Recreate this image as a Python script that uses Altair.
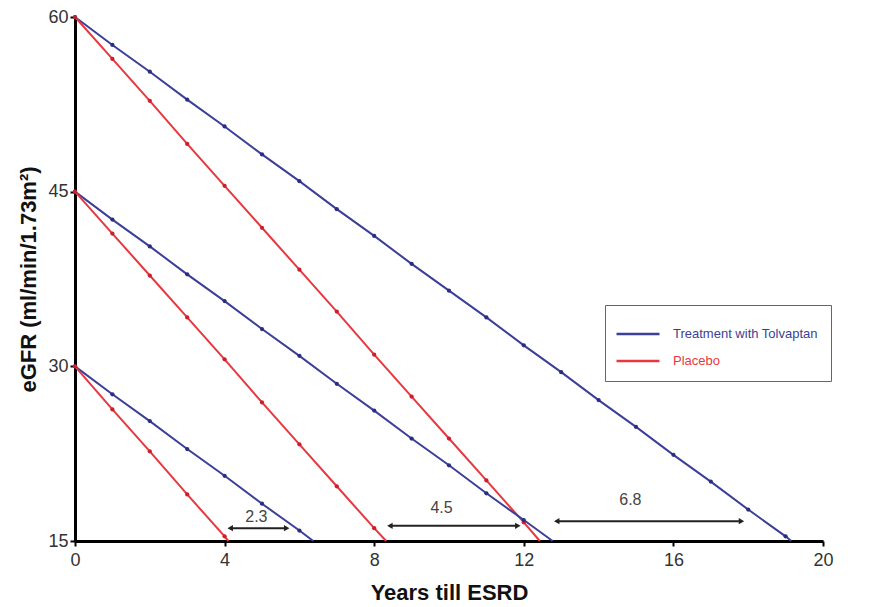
import altair as alt
import pandas as pd

TOLV = "Treatment with Tolvaptan"
PLAC = "Placebo"

# eGFR values at integer years (0,1,2,...) for each line, plus the year where it reaches 15
tolv60_vals = [60, 57.6, 55.3, 52.9, 50.6, 48.2, 45.9, 43.5, 41.2, 38.8, 36.5, 34.2, 31.8, 29.5, 27.1, 24.8, 22.4, 20.1, 17.7, 15.4]
tolv60_end = 19.15
plac60_vals = [60, 56.4, 52.8, 49.1, 45.5, 41.9, 38.3, 34.7, 31.0, 27.4, 23.8, 20.2, 16.6]
plac60_end = 12.43
tolv45_vals = [45, 42.6, 40.3, 37.9, 35.6, 33.2, 30.9, 28.5, 26.2, 23.8, 21.5, 19.1, 16.8]
tolv45_end = 12.77
plac45_vals = [45, 41.4, 37.8, 34.2, 30.6, 26.9, 23.3, 19.7, 16.1]
plac45_end = 8.32
tolv30_vals = [30, 27.6, 25.3, 22.9, 20.6, 18.2, 15.9]
tolv30_end = 6.37
plac30_vals = [30, 26.3, 22.7, 19.0, 15.4]
plac30_end = 4.1

esrd_level = 15

# annotation arrows (difference in years to ESRD)
arrow_x1 = [4.15, 8.42, 12.88]
arrow_x2 = [5.66, 11.84, 17.82]
arrow_y = [16.1, 16.3, 16.7]
arrow_labels = ["2.3", "4.5", "6.8"]
label_x = [4.85, 9.8, 14.85]
label_y = [17.1, 17.8, 18.5]

x_ticks = [0, 4, 8, 12, 16, 20]
y_ticks = [15, 30, 45, 60]

lines = [
    ("t60", TOLV, tolv60_vals, tolv60_end),
    ("p60", PLAC, plac60_vals, plac60_end),
    ("t45", TOLV, tolv45_vals, tolv45_end),
    ("p45", PLAC, plac45_vals, plac45_end),
    ("t30", TOLV, tolv30_vals, tolv30_end),
    ("p30", PLAC, plac30_vals, plac30_end),
]

line_rows, pt_rows = [], []
for lid, ser, vals, end in lines:
    for i, v in enumerate(vals):
        line_rows.append({"line": lid, "series": ser, "year": i, "egfr": v})
        pt_rows.append({"line": lid, "series": ser, "year": i, "egfr": v})
    line_rows.append({"line": lid, "series": ser, "year": end, "egfr": esrd_level})
line_df = pd.DataFrame(line_rows)
pt_df = pd.DataFrame(pt_rows)

arr_df = pd.DataFrame({"x1": arrow_x1, "x2": arrow_x2, "y": arrow_y,
                       "label": arrow_labels, "lx": label_x, "ly": label_y})

BLUE = "#3b3f98"
RED = "#e8383f"
FONT = "Liberation Sans"

xs = alt.Scale(domain=[0, 20], nice=False, zero=False)
ys = alt.Scale(domain=[15, 60], nice=False, zero=False)

x_axis = alt.Axis(values=x_ticks, title="Years till ESRD", grid=False,
                  domainColor="black", domainWidth=3, tickColor="black", tickWidth=2, tickSize=5,
                  labelFontSize=18, labelColor="#333333", labelFont=FONT, labelPadding=5,
                  titleFontSize=22, titleFont=FONT, titleFontWeight="bold", titleColor="#111111",
                  titlePadding=13, labelFlush=False)
y_axis = alt.Axis(values=y_ticks, title="eGFR (ml/min/1.73m²)", grid=False,
                  domainColor="black", domainWidth=3, tickColor="black", tickWidth=2, tickSize=5,
                  labelFontSize=18, labelColor="#333333", labelFont=FONT, labelPadding=2,
                  titleFontSize=22, titleFont=FONT, titleFontWeight="bold", titleColor="#111111",
                  titlePadding=7, labelFlush=False)

color_scale = alt.Scale(domain=[TOLV, PLAC], range=[BLUE, RED])

line_layer = alt.Chart(line_df).mark_line(strokeWidth=2).encode(
    x=alt.X("year:Q", scale=xs, axis=x_axis),
    y=alt.Y("egfr:Q", scale=ys, axis=y_axis),
    color=alt.Color("series:N", scale=color_scale, sort=[TOLV, PLAC],
                    legend=alt.Legend(title=None, orient="none", legendX=530, legendY=288,
                                      fillColor="white", strokeColor="#666666",
                                      padding=13, rowPadding=4, symbolType="M-1.5,0H1.5",
                                      symbolSize=820, symbolStrokeWidth=2.5, symbolOffset=4,
                                      labelFont=FONT, labelFontSize=13, labelOffset=19,
                                      labelColor={"expr": f"datum.label == '{PLAC}' ? '{RED}' : '{BLUE}'"})),
    detail="line:N",
    order="year:Q",
)

pt_layer = alt.Chart(pt_df).mark_circle(size=18, opacity=1).encode(
    x=alt.X("year:Q", scale=xs),
    y=alt.Y("egfr:Q", scale=ys),
    color=alt.Color("series:N", scale=alt.Scale(domain=[TOLV, PLAC], range=["#2a2e80", "#cc1f2a"]), legend=None),
)

rule_layer = alt.Chart(arr_df).mark_rule(color="#222222", strokeWidth=2).encode(
    x=alt.X("x1:Q", scale=xs), x2="x2:Q", y=alt.Y("y:Q", scale=ys))
left_head = alt.Chart(arr_df).mark_point(shape="triangle-left", filled=True, color="#222222", size=40, opacity=1).encode(
    x=alt.X("x1:Q", scale=xs), y=alt.Y("y:Q", scale=ys))
right_head = alt.Chart(arr_df).mark_point(shape="triangle-right", filled=True, color="#222222", size=40, opacity=1).encode(
    x=alt.X("x2:Q", scale=xs), y=alt.Y("y:Q", scale=ys))
text_layer = alt.Chart(arr_df).mark_text(font=FONT, fontSize=16, color="#444444").encode(
    x=alt.X("lx:Q", scale=xs), y=alt.Y("ly:Q", scale=ys), text="label:N")

chart = alt.layer(line_layer, pt_layer, rule_layer, left_head, right_head, text_layer).resolve_scale(
    color="independent"
).properties(
    width=748, height=524,
    autosize=alt.AutoSizeParams(type="none"),
    padding={"left": 75, "top": 17, "right": 56, "bottom": 66},
    background="white",
).configure_view(stroke=None)

chart.save("out.html", embed_options={"renderer": "svg", "actions": False})
